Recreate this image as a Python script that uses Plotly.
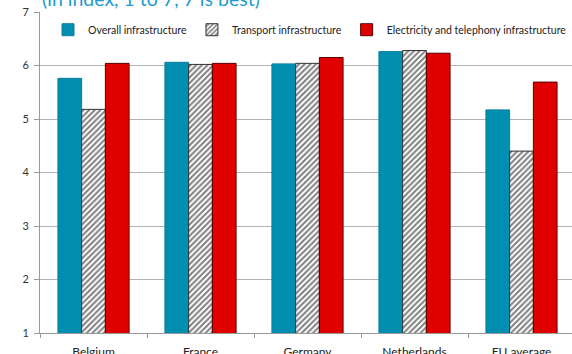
import plotly.graph_objects as go

# Infrastructure quality scores (index 1-7, 7 is best)
countries = ["Belgium", "France", "Germany", "Netherlands", "EU average"]
overall = [5.76, 6.06, 6.03, 6.26, 5.17]
transport = [5.18, 6.02, 6.04, 6.28, 4.40]
electricity = [6.04, 6.04, 6.15, 6.23, 5.69]
y_ticks = [1, 2, 3, 4, 5, 6, 7]

FONT = "Lato"
TEAL = "#008fb0"
RED = "#e00000"

fig = go.Figure()
fig.add_trace(go.Bar(
    name="Overall infrastructure", x=countries, y=overall,
    marker=dict(color=TEAL, line=dict(color="#0a7f9c", width=1)),
))
fig.add_trace(go.Bar(
    name="Transport infrastructure", x=countries, y=transport,
    marker=dict(color="white", line=dict(color="#333333", width=1),
                pattern=dict(shape="/", fgcolor="#000000", bgcolor="white",
                             size=4, solidity=0.5)),
))
fig.add_trace(go.Bar(
    name="Electricity and telephony infrastructure", x=countries, y=electricity,
    marker=dict(color=RED, line=dict(color="#5a0000", width=1)),
))

fig.add_annotation(
    text="(in index, 1 to 7, 7 is best)", xref="paper", yref="paper",
    x=0, y=1, xanchor="left", yanchor="bottom", yshift=0, showarrow=False,
    font=dict(family=FONT, size=19.5, color="#1f9ccc"),
)

fig.update_layout(
    width=572, height=354,
    margin=dict(l=40, r=0, t=12, b=21),
    paper_bgcolor="white", plot_bgcolor="white",
    barmode="group", bargap=0.335, bargroupgap=0,
    font=dict(family=FONT, size=11, color="#333333"),
    showlegend=True,
    legend=dict(orientation="h", x=0.045, y=0.99, xanchor="left", yanchor="top",
                font=dict(family=FONT, size=10.5, color="#222222"),
                bgcolor="rgba(0,0,0,0)", itemwidth=30, traceorder="normal"),
    xaxis=dict(
        type="category", range=[-0.5, 4.472], automargin=False,
        showline=True, linecolor="#999999", linewidth=1,
        ticks="outside", tickson="boundaries", ticklen=4, tickcolor="#999999",
        ticklabelstandoff=8,
        showgrid=False, tickfont=dict(family=FONT, size=12, color="#222222"),
    ),
    yaxis=dict(
        range=[1, 7], tickvals=y_ticks, ticktext=[str(v) for v in y_ticks],
        automargin=False,
        showline=True, linecolor="#999999", linewidth=1,
        ticks="outside", ticklen=5, tickcolor="#999999", ticklabelstandoff=3,
        showgrid=True, gridcolor="#b3b3b3", gridwidth=1, zeroline=False,
        tickfont=dict(family=FONT, size=11, color="#333333"),
    ),
)

fig.write_html("out.html")
